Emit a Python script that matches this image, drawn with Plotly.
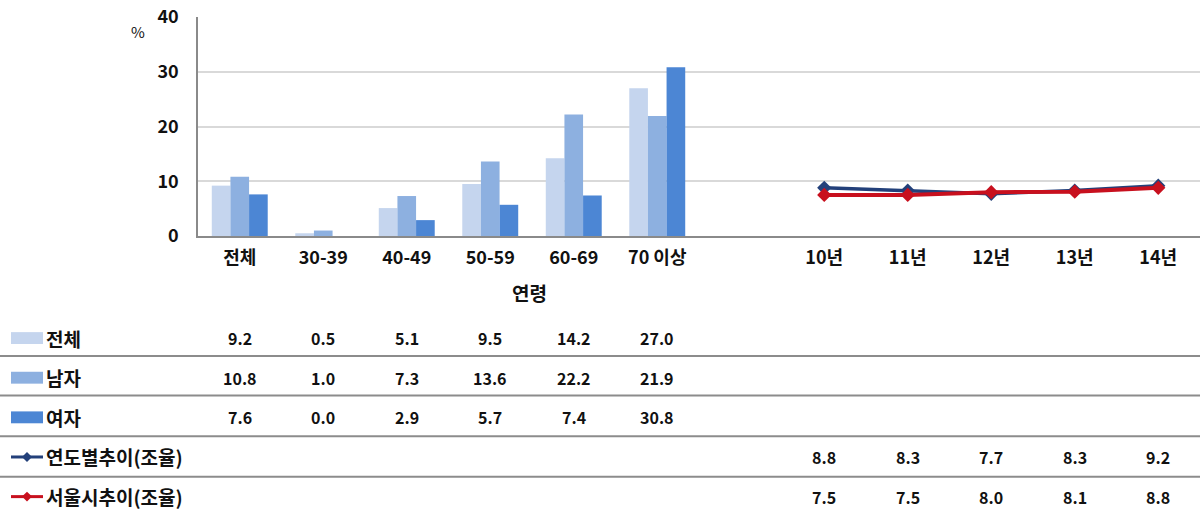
import plotly.graph_objects as go

# ---- data ----
age_labels = ["전체", "30-39", "40-49", "50-59", "60-69", "70 이상"]
year_labels = ["10년", "11년", "12년", "13년", "14년"]
total_vals = [9.2, 0.5, 5.1, 9.5, 14.2, 27.0]
male_vals = [10.8, 1.0, 7.3, 13.6, 22.2, 21.9]
female_vals = [7.6, 0.0, 2.9, 5.7, 7.4, 30.8]
trend_vals = [8.8, 8.3, 7.7, 8.3, 9.2]
seoul_vals = [7.5, 7.5, 8.0, 8.1, 8.8]
bar_names = ["전체", "남자", "여자"]
line_names = ["연도별추이(조율)", "서울시추이(조율)"]
y_ticks = [0, 10, 20, 30, 40]

# positions on a numeric category axis (one empty slot between groups)
age_x = list(range(len(age_labels)))
year_x = [len(age_labels) + 1 + i for i in range(len(year_labels))]

bar_colors = ["#C5D5EE", "#8DB0E0", "#4C86D4"]
line_colors = ["#23407A", "#C8101E"]

W, H = 1202, 512
ML, MR, MT, MB = 198, 2, 15, 276
PW = W - ML - MR
PH = H - MT - MB


def px_x(p):
    return (p - ML) / PW


def px_y(p):
    return (H - MB - p) / PH


FONT = "Noto Sans CJK KR"

fig = go.Figure()
for name, vals, col in zip(bar_names, [total_vals, male_vals, female_vals], bar_colors):
    fig.add_trace(go.Bar(x=age_x, y=vals, name=name, marker=dict(color=col, line=dict(width=0)),
                         showlegend=False))

for name, vals, col, w in zip(line_names, [trend_vals, seoul_vals], line_colors, [3.5, 4]):
    fig.add_trace(go.Scatter(x=year_x, y=vals, name=name, mode="lines+markers",
                             line=dict(color=col, width=w),
                             marker=dict(symbol="diamond", size=11, color=col),
                             showlegend=False))

all_x = age_x + year_x
all_labels = age_labels + year_labels
n_slots = len(age_labels) + 1 + len(year_labels)

fig.update_layout(
    width=W, height=H,
    margin=dict(l=ML, r=MR, t=MT, b=MB),
    plot_bgcolor="white", paper_bgcolor="white",
    barmode="group", bargap=0.33, bargroupgap=0,
    font=dict(family=FONT, color="#111111"),
    xaxis=dict(range=[-0.5, n_slots - 0.5], tickmode="array", tickvals=all_x, ticktext=all_labels,
               showgrid=False, showline=True, linecolor="#8a8a8a", linewidth=2,
               ticks="", tickfont=dict(size=18, family=FONT, weight="bold"), ticklabelstandoff=4,
               zeroline=False),
    yaxis=dict(range=[0, 40], tickmode="array", tickvals=y_ticks, showgrid=True,
               gridcolor="#d9d9d9", gridwidth=1.5, showline=True, linecolor="#8a8a8a", linewidth=1.5,
               ticks="", tickfont=dict(size=18, family=FONT, weight="bold"), ticklabelstandoff=14,
               zeroline=False),
)

ann = []
shapes = []
# y unit and x axis title
ann.append(dict(x=px_x(138), y=px_y(30), xref="paper", yref="paper", text="%", showarrow=False,
                font=dict(size=15, family=FONT), xanchor="center", yanchor="middle"))
ann.append(dict(x=px_x(529), y=px_y(293), xref="paper", yref="paper", text="<b>연령</b>", showarrow=False,
                font=dict(size=19, family=FONT), xanchor="center", yanchor="middle"))

# data table
row_y = [339, 379, 419, 459, 499]
rows = [(bar_names[0], age_x, total_vals), (bar_names[1], age_x, male_vals),
        (bar_names[2], age_x, female_vals), (line_names[0], year_x, trend_vals),
        (line_names[1], year_x, seoul_vals)]
for i, (name, xs, vals) in enumerate(rows):
    yy = px_y(row_y[i])
    ann.append(dict(x=px_x(44), y=yy, xref="paper", yref="paper", text="<b>" + name + "</b>",
                    showarrow=False, font=dict(size=19, family=FONT), xanchor="left", yanchor="middle"))
    for xv, v in zip(xs, vals):
        ann.append(dict(x=xv, y=yy, xref="x", yref="paper", text="<b>%.1f</b>" % v, showarrow=False,
                        font=dict(size=16, family=FONT), xanchor="center", yanchor="middle"))
    # legend key
    if i < 3:
        shapes.append(dict(type="rect", xref="paper", yref="paper", x0=px_x(11), x1=px_x(43),
                           y0=px_y(row_y[i] - 6), y1=px_y(row_y[i] + 6),
                           fillcolor=bar_colors[i], line=dict(width=0)))
    else:
        col = line_colors[i - 3]
        shapes.append(dict(type="line", xref="paper", yref="paper", x0=px_x(11), x1=px_x(43),
                           y0=yy, y1=yy, line=dict(color=col, width=3)))
        cx, cy = 27, row_y[i]
        path = "M %f %f L %f %f L %f %f L %f %f Z" % (
            px_x(cx - 5), px_y(cy), px_x(cx), px_y(cy - 5), px_x(cx + 5), px_y(cy), px_x(cx), px_y(cy + 5))
        shapes.append(dict(type="path", xref="paper", yref="paper", path=path,
                           fillcolor=col, line=dict(width=0)))

for ly in [357, 397, 438, 479]:
    shapes.append(dict(type="line", xref="paper", yref="paper", x0=px_x(0), x1=px_x(1200),
                       y0=px_y(ly), y1=px_y(ly), line=dict(color="#8c8c8c", width=2)))

fig.update_layout(annotations=ann, shapes=shapes)
fig.write_html("out.html", config={"displayModeBar": False},
               post_script="document.body.style.margin='0';document.body.style.overflow='hidden';")
